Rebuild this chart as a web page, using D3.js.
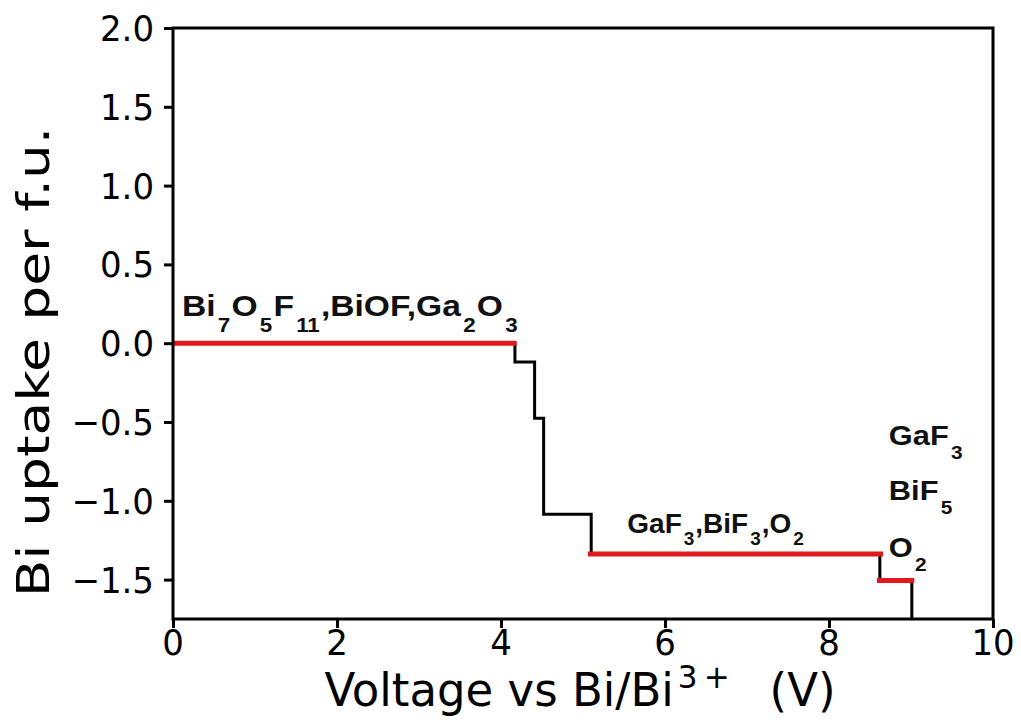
<!DOCTYPE html>
<html><head><meta charset="utf-8">
<script src="https://cdn.jsdelivr.net/npm/d3@7"></script>
<style>
html,body{margin:0;padding:0;background:#fff;}
svg{display:block;}
</style></head>
<body>
<svg id="chart" width="1021" height="726"></svg>
<script>
// ---- data ----
const stepVoltage = [0, 4.17, 4.41, 4.52, 5.10, 8.62, 9.01];
const stepUptake  = [0, -0.12, -0.476, -1.086, -1.337, -1.505, -1.9];
const redStart = [0, 5.06, 8.585];
const redEnd   = [4.19, 8.66, 9.04];
const redLevel = [0, -1.337, -1.505];
const xTicks = [0, 2, 4, 6, 8, 10];
const yTicks = [-1.5, -1.0, -0.5, 0.0, 0.5, 1.0, 1.5, 2.0];
const xDomain = [0, 10];
const yDomain = [-1.75, 2.0];
const xLabel = "Voltage vs Bi/Bi";
const xLabelSup = "3\u2009+";
const xLabelUnit = "(V)";
const yLabel = "Bi uptake per f.u.";
// annotation texts as [text, isSubscript] pieces
const labelParts = [
  [["Bi",0],["7",1],["O",0],["5",1],["F",0],["11",1],[",BiOF,Ga",0],["2",1],["O",0],["3",1]],
  [["GaF",0],["3",1],[",BiF",0],["3",1],[",O",0],["2",1]],
  [["GaF",0],["3",1]],
  [["BiF",0],["5",1]],
  [["O",0],["2",1]]
];
const labelX = [0.11, 5.54, 8.73, 8.73, 8.73];
const labelY = [0.17, -1.205, -0.647, -0.996, -1.358];

// ---- style ----
const labelFont = [30, 28, 28, 28, 28];
const labelSub  = [20, 19, 19, 19, 19];
const labelDrop = [16, 12, 14, 14, 14];
const labelStretch = [1.12, 1.0, 1.1, 1.1, 1.1];
const L = 173, R = 993, T = 28, B = 619;

const svg = d3.select("#chart");
const x = d3.scaleLinear().domain(xDomain).range([L, R]);
const y = d3.scaleLinear().domain(yDomain).range([B, T]);
const fmt = d => (d < 0 ? "\u2212" : "") + Math.abs(d).toFixed(1);
const FONT = "DejaVu Sans";

svg.append("defs").append("clipPath").attr("id","clip")
  .append("rect").attr("x",L).attr("y",T).attr("width",R-L).attr("height",B-T);

// step line
const line = d3.line().x((d,i)=>x(stepVoltage[i])).y((d,i)=>y(stepUptake[i])).curve(d3.curveStepAfter);
svg.append("path").datum(stepVoltage).attr("d", line)
  .attr("fill","none").attr("stroke","#000").attr("stroke-width",3)
  .attr("clip-path","url(#clip)");

// red segments
svg.append("g").selectAll("line").data(redStart).join("line")
  .attr("x1",(d,i)=>x(redStart[i])).attr("x2",(d,i)=>x(redEnd[i]))
  .attr("y1",(d,i)=>y(redLevel[i])).attr("y2",(d,i)=>y(redLevel[i]))
  .attr("stroke","#e0191f").attr("stroke-width",5);

// axes (tick marks via d3.axis, labels drawn slightly stretched like the reference)
const xAxis = svg.append("g").attr("transform",`translate(0,${B})`)
  .call(d3.axisBottom(x).tickValues(xTicks).tickFormat("").tickSize(9));
const yAxis = svg.append("g").attr("transform",`translate(${L},0)`)
  .call(d3.axisLeft(y).tickValues(yTicks).tickFormat("").tickSize(9));
[xAxis,yAxis].forEach(g=>{
  g.select(".domain").remove();
  g.selectAll(".tick line").attr("stroke","#000").attr("stroke-width",3);
});
const TS = 1.06; // vertical stretch of tick text
svg.append("g").selectAll("text").data(xTicks).join("text")
  .attr("transform", d=>`translate(${x(d)},${B+23}) scale(1,${TS})`)
  .attr("text-anchor","middle").attr("dy","0.36em")
  .style("font-family",FONT).style("font-size","34px").attr("fill","#000")
  .text(d=>d3.format("d")(d));
svg.append("g").selectAll("text").data(yTicks).join("text")
  .attr("transform", d=>`translate(${L-19},${y(d)}) scale(1,${TS})`)
  .attr("text-anchor","end").attr("dy","0.36em")
  .style("font-family",FONT).style("font-size","34px").attr("fill","#000")
  .text(fmt);

// frame
svg.append("rect").attr("x",L).attr("y",T).attr("width",R-L).attr("height",B-T)
  .attr("fill","none").attr("stroke","#000").attr("stroke-width",3);

// axis labels
const xl = svg.append("text").attr("transform",`translate(${(L+R)/2-3},706) scale(1,1.04)`)
  .attr("text-anchor","middle")
  .style("font-family",FONT).style("font-size","45px").attr("fill","#000");
xl.append("tspan").text(xLabel);
xl.append("tspan").attr("dy",-17).attr("dx",4).style("font-size","31px").text(xLabelSup);
xl.append("tspan").attr("dy",17).attr("dx",40).text(xLabelUnit);

svg.append("text").attr("transform",`translate(49,362) scale(1,1.25) rotate(-90)`)
  .attr("text-anchor","middle")
  .style("font-family",FONT).style("font-size","44px").attr("fill","#000")
  .text(yLabel);

// annotations
labelParts.forEach((parts,i)=>{
  const t = svg.append("text")
    .attr("transform",`translate(${x(labelX[i])},${y(labelY[i])}) scale(${labelStretch[i]},1)`)
    .style("font-family","Liberation Sans, Arial").style("font-weight","bold")
    .style("font-size",labelFont[i]+"px").attr("fill","#111");
  let sub = false;
  parts.forEach(([s,isSub])=>{
    const ts = t.append("tspan").text(s);
    if (isSub) {
      ts.style("font-size",labelSub[i]+"px").attr("dx",2);
      if (!sub) ts.attr("dy",labelDrop[i]);
      sub = true;
    } else {
      if (sub) ts.attr("dy",-labelDrop[i]).attr("dx",1);
      sub = false;
    }
  });
});
</script>
</body></html>
